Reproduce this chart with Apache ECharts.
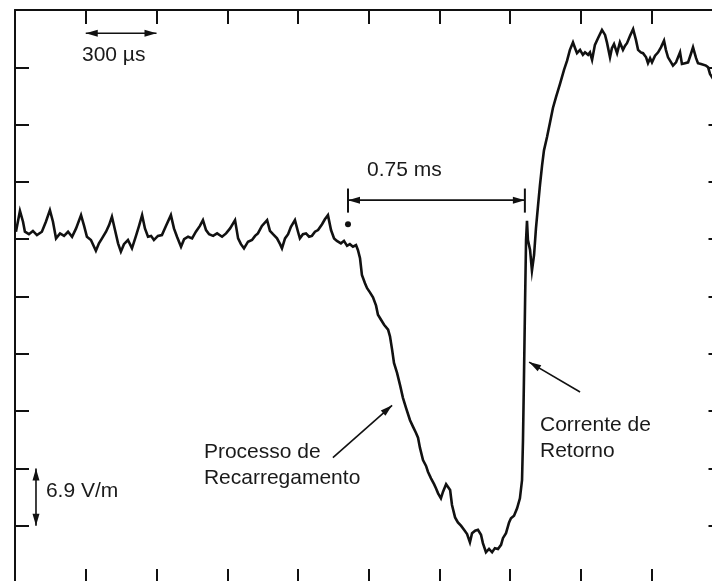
<!DOCTYPE html>
<html>
<head>
<meta charset="utf-8">
<script src="https://cdn.jsdelivr.net/npm/echarts@6/dist/echarts.min.js"></script>
<style>
  html, body { margin: 0; padding: 0; background: #ffffff; }
  #chart { width: 712px; height: 581px; }
</style>
</head>
<body>
<div id="chart"></div>
<script>
// Electric field record of a lightning flash: time in microseconds, field change in V/m
// (pre-stroke level taken as 0 V/m).

// Quiet pre-stroke level with ripple
const baselineTimeUs = [
  4, 21, 34, 42, 59, 76, 93, 114, 131, 148,
  161, 174, 191, 208, 225, 242, 259, 280, 293, 305,
  322, 343, 356, 369, 386, 399, 411, 424, 437, 449,
  462, 479, 496, 513, 526, 539, 551, 564, 577, 589,
  606, 623, 640, 661, 674, 687, 704, 717, 734, 751,
  767, 784, 797, 810, 823, 840, 857, 878, 895, 912,
  933, 946, 958, 971, 988, 1005, 1018, 1030, 1047, 1069,
  1081, 1094, 1111, 1124, 1132, 1145, 1158, 1170, 1187, 1200,
  1208, 1221, 1234, 1247, 1259, 1272, 1285, 1302, 1314, 1327,
  1340, 1353, 1365, 1382, 1395, 1408, 1420, 1433, 1446, 1454
];
const baselineFieldVm = [
  0.9, 3.4, 2.1, 0.9, 0.6, 1.0, 0.5, 0.9, 2.1, 3.5,
  2.1, 0.1, 0.7, 0.4, 0.9, 0.3, 1.3, 2.9, 1.6, 0.3,
  -0.1, -1.4, -0.5, 0.1, 0.9, 1.7, 2.7, 1.1, -0.5, -1.5,
  -0.6, -0.1, -1.1, 0.4, 1.6, 2.9, 1.3, 0.3, 0.4, -0.1,
  0.4, 0.5, 1.6, 2.9, 1.3, 0.3, -0.9, 0.0, 0.3, 0.1,
  0.9, 1.6, 2.3, 1.1, 0.6, 0.4, 0.7, 0.3, 0.7, 1.3,
  2.3, 0.1, -0.6, -1.1, -0.3, -0.1, 0.4, 0.7, 1.6, 2.3,
  1.0, 0.6, 0.1, -0.6, -1.1, 0.1, 0.6, 1.5, 2.3, 0.9,
  0.1, 0.6, 0.7, 0.3, 0.4, 0.9, 1.1, 1.8, 2.4, 2.9,
  1.1, 0.1, -0.2, -0.5, -0.2, -0.8, -0.6, -0.9, -0.7, -1.3
];

// Recharging (leader) ramp, then the return stroke jump
const strokeTimeUs = [
  1463, 1471, 1484, 1493, 1505, 1518, 1531, 1539, 1552, 1565,
  1582, 1590, 1599, 1607, 1620, 1633, 1645, 1658, 1675, 1688,
  1700, 1709, 1717, 1730, 1743, 1751, 1764, 1777, 1785, 1794,
  1806, 1815, 1828, 1836, 1845, 1853, 1866, 1878, 1891, 1904,
  1917, 1929, 1938, 1951, 1963, 1976, 1984, 1997, 2010, 2023,
  2035, 2048, 2061, 2069, 2082, 2095, 2103, 2116, 2129, 2141,
  2150, 2154, 2158, 2163, 2167, 2171, 2175, 2184, 2192, 2201,
  2209, 2218, 2226, 2235, 2243, 2256, 2269, 2281, 2294, 2311,
  2328, 2341, 2353, 2366
];
const strokeFieldVm = [
  -2.3, -4.3, -5.3, -5.9, -6.4, -7.0, -8.0, -9.1, -9.7, -10.3,
  -10.9, -11.7, -13.3, -14.9, -16.1, -17.6, -19.1, -20.3, -21.8, -22.6,
  -23.3, -23.9, -25.1, -26.6, -27.3, -28.0, -28.8, -29.5, -30.0, -30.6,
  -31.2, -30.4, -29.5, -29.7, -30.2, -32.0, -33.5, -34.1, -34.5, -35.0,
  -35.5, -36.5, -35.4, -35.1, -35.0, -35.6, -36.6, -37.7, -37.3, -37.7,
  -37.2, -37.3, -36.8, -36.0, -35.4, -34.1, -33.6, -33.3, -32.4, -31.2,
  -29.0, -24.2, -17.0, -7.3, -0.1, 2.2, -0.1, -1.3, -3.8, -1.9,
  1.3, 4.1, 6.5, 8.9, 10.7, 12.3, 14.1, 15.8, 17.1, 18.7,
  20.4, 21.5, 22.8, 23.7
];

// Post-stroke plateau
const plateauTimeUs = [
  2375, 2383, 2396, 2408, 2417, 2430, 2438, 2447, 2459, 2472,
  2489, 2502, 2510, 2523, 2531, 2540, 2553, 2565, 2578, 2587,
  2595, 2608, 2621, 2633, 2642, 2654, 2663, 2676, 2684, 2693,
  2701, 2714, 2727, 2739, 2752, 2760, 2769, 2782, 2790, 2803,
  2811, 2820, 2828, 2841, 2854, 2866, 2875, 2888, 2896, 2909,
  2917, 2930, 2939, 2947, 2956, 2972
];
const plateauFieldVm = [
  23.0, 22.4, 22.8, 22.2, 22.5, 22.2, 22.5, 21.6, 23.4, 24.2,
  25.2, 24.6, 23.7, 21.9, 23.0, 23.5, 22.4, 23.7, 22.8, 23.3,
  23.6, 24.5, 25.3, 24.0, 22.8, 22.5, 22.4, 21.9, 21.2, 21.8,
  21.3, 22.1, 22.5, 23.1, 23.9, 22.8, 21.9, 21.3, 20.9, 21.3,
  21.2, 22.5, 21.1, 21.2, 21.3, 22.3, 23.1, 21.8, 21.2, 21.1,
  21.0, 20.9, 20.7, 19.9, 19.5, 20.4
];

// Screen divisions: 300 µs per horizontal division, 6.9 V/m per vertical division
const timeAxisUs = { min: 0, max: 3000, step: 300 };
const fieldAxisVm = { min: -41.4, max: 27.6, step: 6.9 };

// Scale markers and measured interval
const timeScaleBarUs = [300, 600];
const fieldScaleBarVm = [-27.6, -34.5];
const stepIntervalUs = [1412, 2162];

const timeUs = baselineTimeUs.concat(strokeTimeUs, plateauTimeUs);
const fieldVm = baselineFieldVm.concat(strokeFieldVm, plateauFieldVm);
const trace = timeUs.map((t, i) => [t, fieldVm[i]]);

const INK = '#111111';
const FONT = '"Liberation Sans", Arial, sans-serif';

const chart = echarts.init(document.getElementById('chart'), null, { renderer: 'canvas' });

function frameAxis(extra, range) {
  return Object.assign({
    type: 'value',
    min: range.min,
    max: range.max,
    interval: range.step,
    splitLine: { show: false },
    axisLabel: { show: false },
    axisLine: { show: true, onZero: false, lineStyle: { color: INK, width: 2 } },
    axisTick: { show: true, inside: true, length: 14, lineStyle: { color: INK, width: 2 } }
  }, extra);
}

chart.setOption({
  animation: false,
  backgroundColor: '#ffffff',
  // the screen graticule runs a little past the right and bottom edges of the view
  grid: { left: 15, top: 10, right: -10.5, bottom: -2, containLabel: false, outerBoundsMode: 'none' },
  xAxis: [
    frameAxis({ position: 'bottom' }, timeAxisUs),
    frameAxis({ position: 'top' }, timeAxisUs)
  ],
  yAxis: [
    frameAxis({ position: 'left' }, fieldAxisVm),
    frameAxis({ position: 'right' }, fieldAxisVm)
  ],
  series: [{
    type: 'line',
    data: trace,
    showSymbol: false,
    symbol: 'none',
    clip: true,
    lineStyle: { color: INK, width: 2.6, join: 'miter' }
  }]
});

// Annotations placed through the chart's own coordinate conversion
function px(t, v) { return chart.convertToPixel({ gridIndex: 0 }, [t, v]); }

function head(tip, from, len, half) {
  const dx = tip[0] - from[0], dy = tip[1] - from[1];
  const d = Math.hypot(dx, dy) || 1;
  const ux = dx / d, uy = dy / d;
  const bx = tip[0] - ux * len, by = tip[1] - uy * len;
  return {
    type: 'polygon',
    shape: { points: [tip, [bx - uy * half, by + ux * half], [bx + uy * half, by - ux * half]] },
    style: { fill: INK }
  };
}

function segment(a, b, w) {
  return {
    type: 'line',
    shape: { x1: a[0], y1: a[1], x2: b[0], y2: b[1] },
    style: { stroke: INK, lineWidth: w || 1.6 }
  };
}

function label(text, at) {
  return {
    type: 'text',
    x: at[0], y: at[1],
    style: { text: text, font: '21px ' + FONT, fill: '#1a1a1a', textVerticalAlign: 'middle', lineHeight: 26 }
  };
}

const els = [];

// 300 µs horizontal scale bar
const sA = px(timeScaleBarUs[0], 24.8), sB = px(timeScaleBarUs[1], 24.8);
els.push(segment(sA, sB), head(sA, sB, 12, 3.5), head(sB, sA, 12, 3.5));
els.push(label('300 µs', px(284, 22.1)));

// 6.9 V/m vertical scale bar
const vA = px(89, fieldScaleBarVm[0]), vB = px(89, fieldScaleBarVm[1]);
els.push(segment(vA, vB), head(vA, vB, 12, 3.5), head(vB, vA, 12, 3.5));
els.push(label('6.9 V/m', px(131, -30.3)));

// 0.75 ms measured interval with end bars
const iA = px(stepIntervalUs[0], 4.7), iB = px(stepIntervalUs[1], 4.7);
els.push(segment(iA, iB));
els.push(head(iA, iB, 12, 3.5), head(iB, iA, 12, 3.5));
els.push(segment(px(stepIntervalUs[0], 6.1), px(stepIntervalUs[0], 3.2), 2));
els.push(segment(px(stepIntervalUs[1], 6.1), px(stepIntervalUs[1], 3.2), 2));
els.push(label('0.75 ms', px(1493, 8.3)));
const dot = px(stepIntervalUs[0], 1.8);
els.push({ type: 'circle', shape: { cx: dot[0], cy: dot[1], r: 3 }, style: { fill: INK } });

// Recharging process pointer
const pTail = px(1348, -26.3), pTip = px(1599, -20.0);
els.push(segment(pTail, pTip), head(pTip, pTail, 12, 3.5));
els.push(label('Processo de\nRecarregamento', px(801, -27.2)));

// Return stroke pointer
const rTail = px(2396, -18.4), rTip = px(2180, -14.8);
els.push(segment(rTail, rTip), head(rTip, rTail, 12, 3.5));
els.push(label('Corrente de\nRetorno', px(2226, -24.0)));

chart.setOption({ graphic: { elements: els } });
</script>
</body>
</html>
